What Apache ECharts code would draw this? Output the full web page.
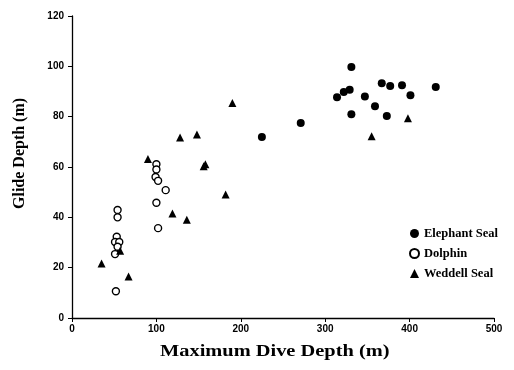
<!DOCTYPE html>
<html><head><meta charset="utf-8">
<script src="https://cdn.jsdelivr.net/npm/echarts@6/dist/echarts.min.js"></script>
<style>html,body{margin:0;padding:0;background:#fff}#c{width:514px;height:370px}</style>
</head><body><div id="c"></div>
<script>
const xTicks = [0, 100, 200, 300, 400, 500];
const yTicks = [0, 20, 40, 60, 80, 100, 120];
const seriesNames = ['Elephant Seal', 'Dolphin', 'Weddell Seal'];
const elephantSeal = [
  [331, 99.7], [314, 87.7], [322, 89.8], [329, 90.7], [331, 81], [347, 88],
  [359, 84.1], [367, 93.3], [377, 92.2], [373, 80.3], [391, 92.5], [401, 88.5],
  [431, 91.8], [271, 77.5], [225, 71.9]
];
const dolphin = [
  [100, 61.1], [100, 59], [99, 56], [102, 54.5], [111, 50.8], [100, 45.8],
  [102, 35.7], [54, 42.9], [54, 40], [53, 32.3], [51, 30.2], [56, 30.2],
  [54, 28.3], [51, 25.4], [52, 10.6]
];
const weddellSeal = [
  [190, 85.4], [355, 72.2], [398, 79.4], [128, 71.7], [148, 72.9], [90, 63.2],
  [158, 61.1], [156, 60.3], [182, 49.1], [119, 41.5], [136, 39], [57, 26.7],
  [35, 21.7], [67, 16.5]
];

const chart = echarts.init(document.getElementById('c'), null, {renderer: 'canvas'});
const tickFont = {fontFamily: 'Liberation Sans', fontWeight: 'bold', fontSize: 10, color: '#000'};
const axisCommon = {
  axisLine: {show: true, onZero: false, lineStyle: {color: '#000', width: 1.3}},
  axisTick: {show: true, inside: false, length: 4, lineStyle: {color: '#000', width: 1}},
  splitLine: {show: false}
};
chart.setOption({
  animation: false,
  backgroundColor: '#fff',
  grid: {left: 72, right: 20, top: 16, bottom: 52, containLabel: false},
  xAxis: Object.assign({type: 'value', min: xTicks[0], max: xTicks[xTicks.length-1], interval: 100}, axisCommon,
    {axisLabel: Object.assign({}, tickFont, {margin: 6})}),
  yAxis: Object.assign({type: 'value', min: yTicks[0], max: yTicks[yTicks.length-1], interval: 20}, axisCommon,
    {axisLabel: Object.assign({}, tickFont, {margin: 8})}),
  legend: {
    orient: 'vertical', left: 404, top: 222, itemGap: 7, itemWidth: 9, itemHeight: 9,
    data: seriesNames,
    textStyle: {fontFamily: 'Liberation Serif', fontWeight: 'bold', fontSize: 12.5, color: '#000'}
  },
  graphic: [
    {type: 'text', x: 160, y: 343, scaleX: 1.2, style: {text: 'Maximum Dive Depth (m)',
      font: 'bold 17px "Liberation Serif"', fill: '#000'}},
    {type: 'text', rotation: Math.PI/2, x: 12, y: 209, style: {text: 'Glide Depth (m)',
      font: 'bold 16px "Liberation Serif"', fill: '#000'}}
  ],
  series: [
    {name: seriesNames[0], type: 'scatter', data: elephantSeal, symbol: 'circle', symbolSize: 8,
      itemStyle: {color: '#000', opacity: 1}},
    {name: seriesNames[1], type: 'scatter', data: dolphin, symbol: 'circle', symbolSize: 7,
      itemStyle: {color: '#fff', borderColor: '#000', borderWidth: 1.4, opacity: 1}},
    {name: seriesNames[2], type: 'scatter', data: weddellSeal, symbol: 'triangle', symbolSize: 8,
      itemStyle: {color: '#000', opacity: 1}}
  ]
});
</script></body></html>
